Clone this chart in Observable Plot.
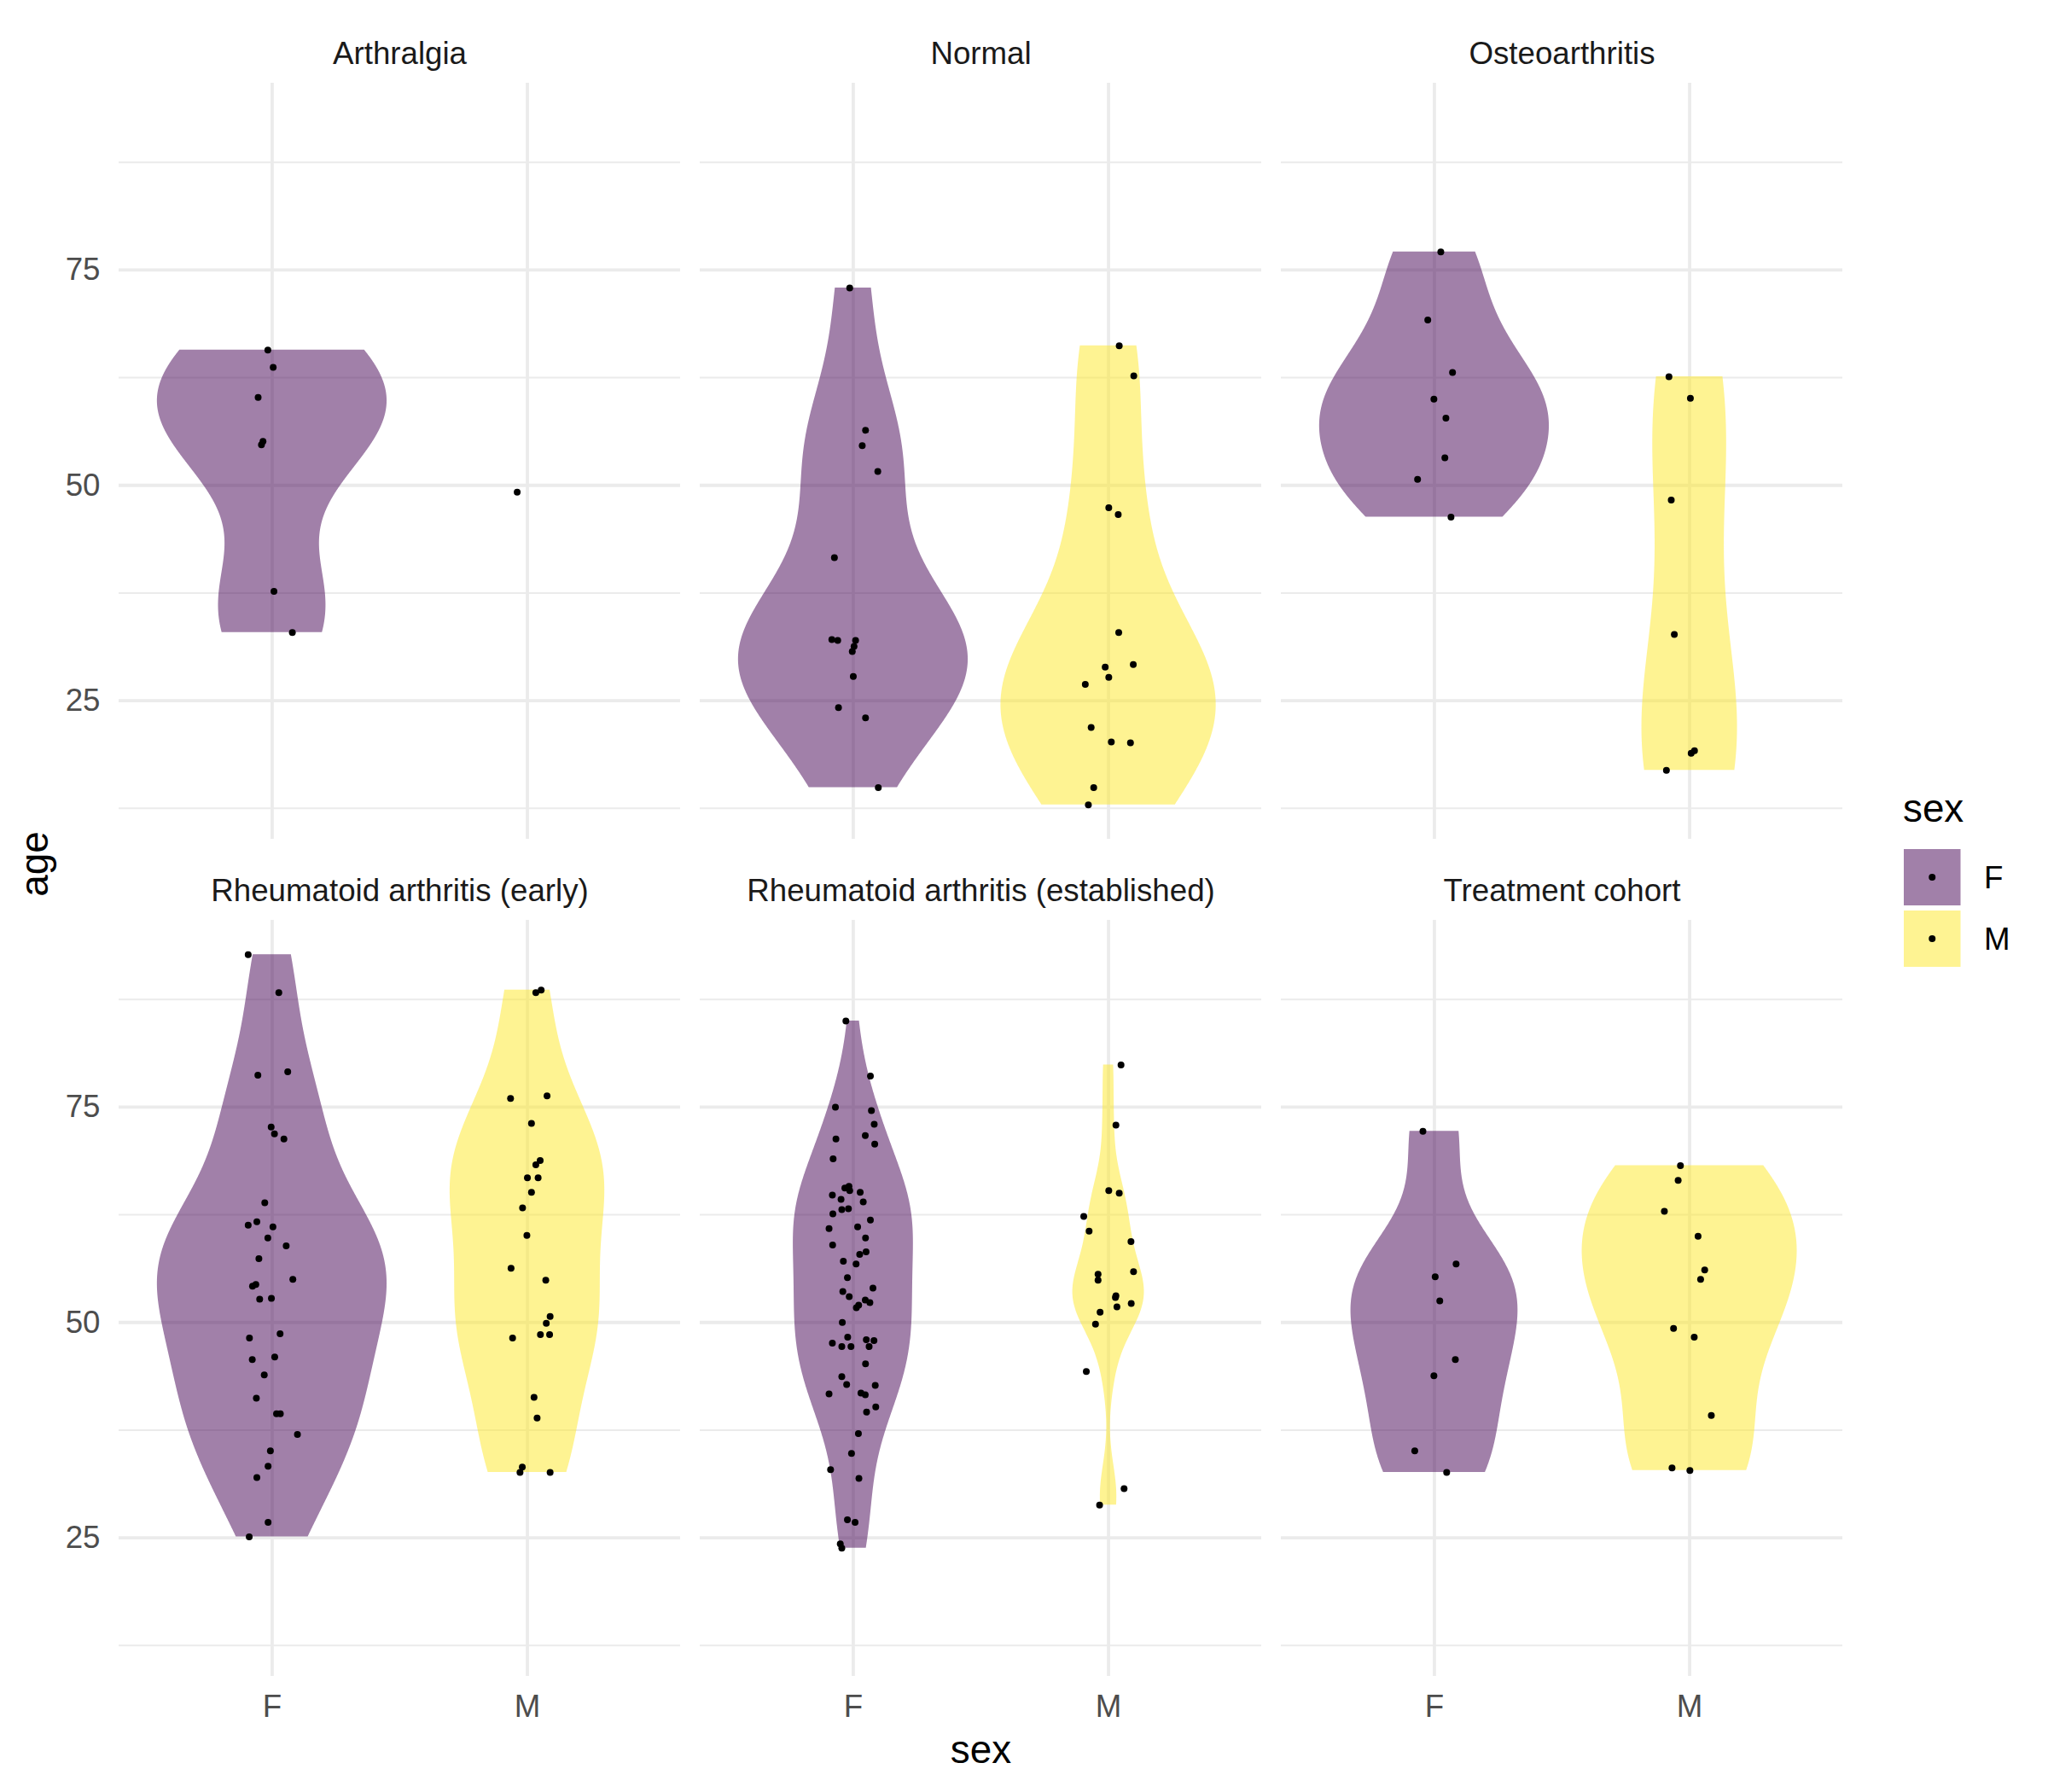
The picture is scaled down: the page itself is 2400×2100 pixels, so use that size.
<!DOCTYPE html>
<html><head><meta charset="utf-8">
<script src="https://cdn.jsdelivr.net/npm/d3@7"></script>
<script src="https://cdn.jsdelivr.net/npm/@observablehq/plot@0.6"></script>
<style>
html,body{margin:0;padding:0;background:#fff;}
#wrap{position:relative;width:2400px;height:2100px;}
</style></head><body><div id="wrap"></div>
<script>
const panelNames = ["Arthralgia","Normal","Osteoarthritis","Rheumatoid arthritis (early)","Rheumatoid arthritis (established)","Treatment cohort"];
const sexLevels = ["F","M"];
const sexColors = ["#440154","#FDE725"];
const yMajor = [25,50,75];
const yMinor = [12.5,37.5,62.5,87.5];

// ages (as plotted, jittered) and horizontal jitter offsets
const ageArthralgiaF = [65.7,63.7,60.2,55.1,54.7,37.7,32.9];
const jitArthralgiaF = [-0.017,0.004,-0.055,-0.036,-0.042,0.007,0.079];
const ageArthralgiaM = [49.2];
const jitArthralgiaM = [-0.040];

const ageNormalF = [72.9,56.4,54.6,51.6,41.6,32.1,32.0,32.0,31.3,30.7,27.8,24.2,23.0,14.9];
const jitNormalF = [-0.014,0.048,0.035,0.096,-0.074,-0.084,-0.061,0.009,0.003,-0.004,0.000,-0.058,0.048,0.098];
const ageNormalM = [66.2,62.7,47.4,46.6,32.9,29.2,28.9,27.7,26.9,21.9,20.2,20.1,14.9,12.9];
const jitNormalM = [0.042,0.099,0.001,0.038,0.040,0.097,-0.013,0.001,-0.091,-0.068,0.011,0.086,-0.058,-0.079];

const ageOsteoF = [77.1,69.2,63.1,60.0,57.8,53.2,50.7,46.3];
const jitOsteoF = [0.025,-0.026,0.071,-0.002,0.045,0.041,-0.066,0.065];
const ageOsteoM = [62.6,60.1,48.3,32.7,19.2,18.9,16.9];
const jitOsteoM = [-0.081,0.003,-0.072,-0.060,0.019,0.006,-0.091];

const ageRAearlyF = [92.7,88.3,78.7,79.1,72.7,71.9,71.3,63.9,61.3,61.7,61.1,59.8,58.9,57.4,55.0,54.2,54.4,52.7,52.8,48.7,48.2,46.0,45.7,43.9,41.2,39.4,39.4,37.0,35.1,33.3,32.0,26.8,25.1];
const jitRAearlyF = [-0.094,0.026,-0.056,0.061,-0.004,0.009,0.046,-0.029,-0.094,-0.060,0.003,-0.017,0.055,-0.052,0.081,-0.077,-0.064,-0.049,-0.003,0.031,-0.089,0.010,-0.078,-0.031,-0.062,0.017,0.032,0.099,-0.007,-0.016,-0.060,-0.016,-0.090];
const ageRAearlyM = [88.6,88.3,76.0,76.3,73.1,68.8,68.3,66.8,66.8,65.1,63.3,60.1,56.3,54.9,50.7,49.9,48.6,48.6,48.2,41.3,38.9,33.2,32.6,32.6];
const jitRAearlyM = [0.054,0.033,-0.066,0.077,0.016,0.050,0.033,0.000,0.042,0.016,-0.019,-0.002,-0.064,0.072,0.089,0.074,0.051,0.087,-0.058,0.026,0.038,-0.020,-0.029,0.089];

const ageRAestF = [85.0,78.6,75.0,74.6,73.0,71.7,71.3,70.7,69.0,65.6,65.8,65.3,65.1,64.8,64.3,64.0,63.1,63.2,62.6,61.9,60.9,61.1,59.8,59.0,58.2,57.9,57.1,56.8,55.2,54.0,53.6,53.0,52.6,52.3,52.0,51.7,50.0,48.3,48.0,47.9,47.6,47.2,47.2,47.2,45.2,43.7,42.8,42.7,41.7,41.8,41.6,39.6,40.2,37.1,34.8,32.9,31.9,27.1,26.8,24.3,23.8];
const jitRAestF = [-0.029,0.067,-0.070,0.071,0.082,0.047,-0.068,0.084,-0.079,-0.033,-0.017,-0.014,0.027,-0.082,-0.048,0.039,-0.045,-0.019,-0.080,0.067,-0.095,0.017,0.048,-0.081,0.050,0.025,-0.039,0.011,-0.023,0.077,-0.041,-0.016,0.047,0.065,0.021,0.012,-0.043,-0.022,0.051,0.081,-0.082,-0.045,-0.009,0.062,0.048,-0.045,-0.026,0.086,-0.095,0.030,0.047,0.052,0.088,0.020,-0.007,-0.089,0.022,-0.023,0.007,-0.051,-0.045];
const ageRAestM = [79.9,72.9,65.3,65.0,62.3,60.6,59.4,55.6,54.9,55.9,53.1,52.9,51.8,52.2,51.2,49.8,44.3,30.7,28.8];
const jitRAestM = [0.049,0.029,0.001,0.042,-0.097,-0.076,0.088,-0.041,-0.041,0.098,0.029,0.027,0.033,0.089,-0.033,-0.051,-0.087,0.061,-0.035];

const ageTreatF = [72.2,56.8,55.3,52.5,45.7,43.8,35.1,32.6];
const jitTreatF = [-0.045,0.085,0.003,0.021,0.082,-0.002,-0.077,0.048];
const ageTreatM = [68.2,66.5,62.9,60.0,56.1,55.0,49.3,48.3,39.2,33.1,32.8];
const jitTreatM = [-0.036,-0.045,-0.099,0.033,0.059,0.043,-0.063,0.018,0.085,-0.069,0.001];

const groups = [
  {panel:0, sex:"F", age:ageArthralgiaF, jit:jitArthralgiaF},
  {panel:0, sex:"M", age:ageArthralgiaM, jit:jitArthralgiaM},
  {panel:1, sex:"F", age:ageNormalF, jit:jitNormalF},
  {panel:1, sex:"M", age:ageNormalM, jit:jitNormalM},
  {panel:2, sex:"F", age:ageOsteoF, jit:jitOsteoF},
  {panel:2, sex:"M", age:ageOsteoM, jit:jitOsteoM},
  {panel:3, sex:"F", age:ageRAearlyF, jit:jitRAearlyF},
  {panel:3, sex:"M", age:ageRAearlyM, jit:jitRAearlyM},
  {panel:4, sex:"F", age:ageRAestF, jit:jitRAestF},
  {panel:4, sex:"M", age:ageRAestM, jit:jitRAestM},
  {panel:5, sex:"F", age:ageTreatF, jit:jitTreatF},
  {panel:5, sex:"M", age:ageTreatM, jit:jitTreatM}
];
const fxOf = p => p % 3, fyOf = p => Math.floor(p / 3);
const posOf = s => sexLevels.indexOf(s) + 1;

const points = groups.flatMap(g => g.age.map((a, i) => ({
  fx: fxOf(g.panel), fy: fyOf(g.panel), sex: g.sex, age: a, x: posOf(g.sex) + g.jit[i]
})));

function bwNrd0(x) {
  const s = d3.deviation(x);
  const sorted = x.slice().sort((a, b) => a - b);
  const iqr = d3.quantileSorted(sorted, 0.75) - d3.quantileSorted(sorted, 0.25);
  let lo = Math.min(s, iqr / 1.34);
  if (!lo) lo = s || Math.abs(x[0]) || 1;
  return 0.9 * lo * Math.pow(x.length, -0.2);
}

// violins: gaussian KDE, trimmed to data range, scale = "count" within each panel
const violins = [];
for (let p = 0; p < 6; p++) {
  const gs = groups.filter(g => g.panel === p && g.age.length >= 2);
  const dens = gs.map(g => {
    const lo = d3.min(g.age), hi = d3.max(g.age), bw = bwNrd0(g.age), n = g.age.length;
    const ys = d3.range(512).map(i => lo + (hi - lo) * i / 511);
    const d = ys.map(y => d3.sum(g.age, a => Math.exp(-0.5 * ((y - a) / bw) ** 2)) / (n * bw * Math.sqrt(2 * Math.PI)));
    return {g, ys, d, n};
  });
  const maxD = d3.max(dens, e => d3.max(e.d));
  const maxN = d3.max(dens, e => e.n);
  for (const e of dens) {
    const pos = posOf(e.g.sex);
    e.ys.forEach((y, i) => {
      const hw = 0.45 * (e.d[i] / maxD) * (e.n / maxN);
      violins.push({fx: fxOf(p), fy: fyOf(p), sex: e.g.sex, y, x1: pos - hw, x2: pos + hw});
    });
  }
}

const allAges = groups.flatMap(g => g.age);
const yLo = d3.min(allAges), yHi = d3.max(allAges), yPad = (yHi - yLo) * 0.05;
const yDomain = [yLo - yPad, yHi + yPad];

const panelTitles = panelNames.map((name, i) => ({fx: fxOf(i), fy: fyOf(i), name}));

const FONT = "'Liberation Sans', Arial, Helvetica, sans-serif";
const chart = Plot.plot({
  width: 2400, height: 2100,
  marginLeft: 139, marginRight: 240, marginTop: 96, marginBottom: 135,
  style: {fontFamily: FONT, background: "#fff", overflow: "visible"},
  x: {domain: [0.4, 2.6]},
  y: {domain: yDomain},
  fx: {domain: [0, 1, 2], axis: null, paddingInner: 0.0331, paddingOuter: 0},
  fy: {domain: [0, 1], axis: null, paddingInner: 0.0967, paddingOuter: 0},
  color: {domain: sexLevels, range: sexColors},
  marks: [
    Plot.ruleY(yMinor, {stroke: "#EBEBEB", strokeWidth: 2}),
    Plot.ruleY(yMajor, {stroke: "#EBEBEB", strokeWidth: 3.8}),
    Plot.ruleX([1, 2], {stroke: "#EBEBEB", strokeWidth: 3.8}),
    Plot.areaX(violins, {fx: "fx", fy: "fy", y: "y", x1: "x1", x2: "x2", fill: "sex", fillOpacity: 0.5, curve: "linear"}),
    Plot.dot(points, {fx: "fx", fy: "fy", x: "x", y: "age", r: 4, fill: "black"}),
    Plot.axisY({ticks: yMajor, tickSize: 0, tickPadding: 22, fontSize: 36.7, fill: "#4D4D4D", label: null}),
    Plot.axisX({ticks: [1, 2], tickFormat: d => sexLevels[d - 1], tickSize: 0, tickPadding: 21, fontSize: 36.7, fill: "#4D4D4D", label: null}),
    Plot.text(panelTitles, {fx: "fx", fy: "fy", text: "name", frameAnchor: "top", lineAnchor: "bottom", dy: -23, fontSize: 36.7, fill: "#1A1A1A"}),
    Plot.text([{fx: 1, fy: 1, t: "sex"}], {fx: "fx", fy: "fy", text: "t", frameAnchor: "bottom", lineAnchor: "bottom", dy: 101, fontSize: 45.8, fill: "#000"}),
    Plot.text([{fx: 0, fy: 0, t: "age"}], {fx: "fx", fy: "fy", text: "t", frameAnchor: "bottom-left", textAnchor: "middle", rotate: -90, lineAnchor: "bottom", dx: -84, dy: 29, fontSize: 45.8, fill: "#000"})
  ]
});
document.getElementById("wrap").appendChild(chart);

// legend (right of the plot)
const leg = d3.select("#wrap").append("svg")
  .attr("width", 250).attr("height", 260)
  .style("position", "absolute").style("left", "2150px").style("top", "900px")
  .style("font-family", FONT);
leg.append("text").attr("x", 80).attr("y", 63).attr("font-size", 45.8).attr("fill", "#000").text("sex");
sexLevels.forEach((s, i) => {
  const y0 = 95 + i * 72;
  leg.append("rect").attr("x", 81).attr("y", y0).attr("width", 66.5).attr("height", 66)
    .attr("fill", sexColors[i]).attr("fill-opacity", 0.5);
  leg.append("circle").attr("cx", 114.25).attr("cy", y0 + 33).attr("r", 4).attr("fill", "#000");
  leg.append("text").attr("x", 175).attr("y", y0 + 33 + 13.2).attr("font-size", 36.7).attr("fill", "#000").text(s);
});
</script></body></html>
